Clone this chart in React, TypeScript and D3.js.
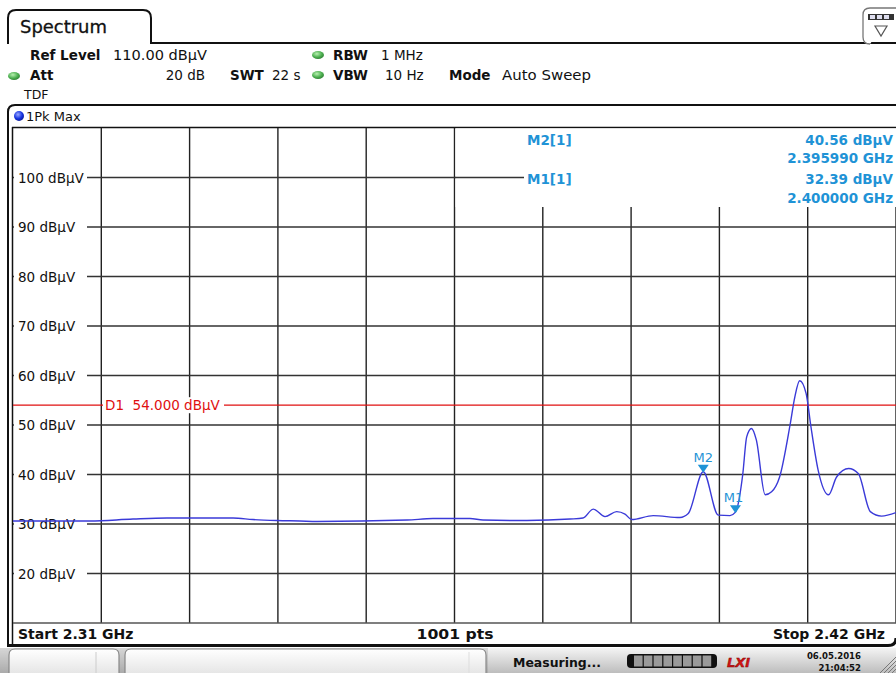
import React from "react";
import * as d3 from "d3";

const W = 896;
const H = 673;

// Trace: frequency (GHz) and level (dBµV)
const traceFreq = [
  2.3100, 2.31336, 2.31959, 2.32495, 2.32918, 2.33741, 2.3399, 2.34289, 2.34575, 2.34787,
  2.35908, 2.36232, 2.36693, 2.36855, 2.37403, 2.37939, 2.3810, 2.38229, 2.38375, 2.3852,
  2.38624, 2.38707, 2.38976, 2.39309, 2.39412, 2.39599, 2.39786, 2.39932, 2.4000, 2.4009,
  2.4014, 2.4020, 2.4026, 2.4037, 2.4045, 2.4055, 2.4068, 2.4074, 2.4080, 2.4088,
  2.4094, 2.4103, 2.4116, 2.4126, 2.4141, 2.4153, 2.4168, 2.4182, 2.4200,
];
const traceLevel = [
  30.6, 30.6, 30.6, 31.0, 31.2, 31.2, 30.9, 30.7, 30.6, 30.5,
  30.8, 31.1, 31.1, 30.8, 30.7, 31.0, 31.2, 33.0, 31.5, 32.5,
  32.0, 30.9, 31.7, 31.3, 32.1, 40.56, 31.8, 31.7, 32.39, 39.9,
  47.6, 49.3, 47.0, 35.9, 36.5, 39.5, 50.0, 55.7, 58.95, 56.4,
  49.7, 40.9, 35.9, 39.5, 41.2, 40.2, 32.5, 31.6, 32.3,
];

const yTicks = [100, 90, 80, 70, 60, 50, 40, 30, 20];
const yTickLabels = yTicks.map((v) => `${v} dBµV`);
const xDivisions = d3.range(11);

const markerNames = ["M2", "M1"];
const markerFreq = [2.39599, 2.4];
const markerLevel = [40.56, 32.39];
const markerLevelText = ["40.56 dBµV", "32.39 dBµV"];
const markerFreqText = ["2.395990 GHz", "2.400000 GHz"];

const displayLine = 54;
const displayLineLabel = "D1  54.000 dBµV";

const startFreq = 2.31;
const stopFreq = 2.42;
const refLevel = 110;
const bottomLevel = 10;

const FONT = "'DejaVu Sans', Verdana, sans-serif";
const FONTC = "'DejaVu Sans Condensed', 'DejaVu Sans', sans-serif";
const MARK = "#1f93d6";

export default function App() {
  const x = d3.scaleLinear().domain([startFreq, stopFreq]).range([13, 896]);
  const y = d3.scaleLinear().domain([bottomLevel, refLevel]).range([623, 128]);

  const pts: [number, number][] = traceFreq.map((f, i) => [f, traceLevel[i]]);
  const line = d3
    .line<[number, number]>()
    .x((d) => x(d[0]))
    .y((d) => y(d[1]))
    .curve(d3.curveMonotoneX);

  const step = (stopFreq - startFreq) / 10;
  const tableBottom = 207;
  const tableLeft = x(startFreq + 5 * step) + 1;

  return (
    <svg
      width={W}
      height={H}
      viewBox={`0 0 ${W} ${H}`}
      style={{ position: "absolute", left: 0, top: 0, background: "#fff" }}
      fontFamily={FONT}
    >
      <defs>
        <radialGradient id="gdot" cx="40%" cy="35%" r="70%">
          <stop offset="0%" stopColor="#b8f0b0" />
          <stop offset="60%" stopColor="#4caf50" />
          <stop offset="100%" stopColor="#2e7d32" />
        </radialGradient>
        <radialGradient id="bdot" cx="40%" cy="35%" r="70%">
          <stop offset="0%" stopColor="#9aa8ff" />
          <stop offset="60%" stopColor="#1533e0" />
          <stop offset="100%" stopColor="#0a1a90" />
        </radialGradient>
        <linearGradient id="status" x1="0" y1="0" x2="0" y2="1">
          <stop offset="0%" stopColor="#f4f4f4" />
          <stop offset="100%" stopColor="#bdbdbd" />
        </linearGradient>
        <linearGradient id="stbox" x1="0" y1="0" x2="0" y2="1">
          <stop offset="0%" stopColor="#ffffff" />
          <stop offset="100%" stopColor="#e6e6e6" />
        </linearGradient>
      </defs>

      <rect x={0} y={0} width={W} height={H} fill="#fff" />

      {/* Tab */}
      <path
        d="M8,44 L8,18 Q8,10 16,10 L143,10 Q151,10 151,18 L151,43 L896,43"
        fill="none"
        stroke="#111"
        strokeWidth={2}
      />
      <text x={20} y={33} fontSize={17} fill="#111" stroke="#111" strokeWidth={0.3} textLength={87} lengthAdjust="spacingAndGlyphs">
        Spectrum
      </text>

      {/* top-right icon */}
      <path d="M896,8 L870,8 Q863,8 863,15 L863,37 Q863,44 870,44" fill="#fff" stroke="#777" strokeWidth={1.3} />
      <rect x={868} y={14} width={26} height={6} fill="#333" />
      <rect x={870} y={15} width={5} height={4} fill="#dde" />
      <rect x={877} y={15} width={5} height={4} fill="#dde" />
      <rect x={884} y={15} width={5} height={4} fill="#dde" />
      <path d="M875,26 L887,26 L881,36 Z" fill="#fff" stroke="#555" strokeWidth={1.2} />

      {/* Header settings */}
      <g fontSize={13.5} fill="#111">
        <text x={30} y={60} fontWeight="bold">Ref Level</text>
        <text x={113} y={60} textLength={94} lengthAdjust="spacingAndGlyphs">110.00 dBµV</text>
        <ellipse cx={318} cy={55} rx={6} ry={4} fill="url(#gdot)" />
        <text x={333} y={60} fontWeight="bold">RBW</text>
        <text x={381} y={60}>1 MHz</text>

        <ellipse cx={14} cy={76} rx={6} ry={4} fill="url(#gdot)" />
        <text x={30} y={80} fontWeight="bold">Att</text>
        <text x={205} y={80} textAnchor="end">20 dB</text>
        <text x={230} y={80} fontWeight="bold">SWT</text>
        <text x={272} y={80}>22 s</text>
        <ellipse cx={318} cy={75} rx={6} ry={4} fill="url(#gdot)" />
        <text x={333} y={80} fontWeight="bold">VBW</text>
        <text x={385} y={80}>10 Hz</text>
        <text x={449} y={80} fontWeight="bold">Mode</text>
        <text x={502} y={80} textLength={89} lengthAdjust="spacingAndGlyphs">Auto Sweep</text>

        <text x={24} y={99} fontSize={12.5}>TDF</text>
      </g>

      {/* Diagram frame */}
      <path
        d="M8,646 L8,112 Q8,105 15,105 L896,105"
        fill="none"
        stroke="#111"
        strokeWidth={2}
      />
      <line x1={12.5} y1={127} x2={12.5} y2={646} stroke="#111" strokeWidth={1.5} />
      <line x1={12} y1={127.5} x2={896} y2={127.5} stroke="#111" strokeWidth={1.5} />
      <circle cx={19} cy={116} r={5} fill="url(#bdot)" />
      <text x={26} y={121} fontSize={13} fill="#111">1Pk Max</text>

      {/* Vertical grid */}
      {xDivisions.slice(1).map((i) => {
        const xx = x(startFreq + i * step);
        const top = i > 5 ? tableBottom : 128;
        return (
          <line key={"v" + i} x1={xx} y1={top} x2={xx} y2={623} stroke="#222" strokeWidth={1.4} />
        );
      })}

      {/* Horizontal grid */}
      {yTicks.map((v) => (
        <line key={"h" + v} x1={13} y1={y(v)} x2={896} y2={y(v)} stroke="#333" strokeWidth={1.4} />
      ))}
      <line x1={13} y1={623} x2={896} y2={623} stroke="#555" strokeWidth={1.6} />

      {/* Marker table box */}
      <rect x={tableLeft} y={128.5} width={896 - tableLeft} height={tableBottom - 128.5} fill="#fff" />
      <line x1={tableLeft - 1} y1={y(100)} x2={524} y2={y(100)} stroke="#333" strokeWidth={1.4} />
      <g fontSize={13.5} fontWeight="bold" fill={MARK}>
        <text x={527} y={145}>M2[1]</text>
        <text x={893} y={145} textAnchor="end">{markerLevelText[0]}</text>
        <text x={893} y={163} textAnchor="end">{markerFreqText[0]}</text>
        <text x={527} y={184}>M1[1]</text>
        <text x={893} y={184} textAnchor="end">{markerLevelText[1]}</text>
        <text x={893} y={203} textAnchor="end">{markerFreqText[1]}</text>
      </g>

      {/* Y labels */}
      {yTicks.map((v, i) => (
        <g key={"yl" + v}>
          <rect x={14} y={y(v) - 8} width={73} height={16} fill="#fff" />
          <text x={18} y={y(v) + 5} fontSize={13.5} fill="#111">
            {yTickLabels[i]}
          </text>
        </g>
      ))}

      {/* Display line */}
      <line x1={13} y1={y(displayLine)} x2={896} y2={y(displayLine)} stroke="#e01010" strokeWidth={1.2} />
      <rect x={103} y={y(displayLine) - 8} width={121} height={16} fill="#fff" />
      <text x={105} y={y(displayLine) + 5} fontSize={13.5} fill="#e01010" style={{ whiteSpace: "pre" }}>
        {displayLineLabel}
      </text>

      {/* Trace */}
      <path d={line(pts) || ""} fill="none" stroke="#3a3ad8" strokeWidth={1.4} />

      {/* Markers */}
      {markerNames.map((m, i) => {
        const mx = x(markerFreq[i]);
        const my = y(markerLevel[i]);
        const lx = i === 1 ? mx - 2 : mx;
        return (
          <g key={m} fill={MARK}>
            <path d={`M${mx - 5.5},${my - 7} L${mx + 5.5},${my - 7} L${mx},${my + 1} Z`} />
            <text x={lx} y={my - 10} fontSize={13} textAnchor="middle">{m}</text>
          </g>
        );
      })}

      {/* Bottom labels */}
      <g fontSize={14} fontWeight="bold" fill="#111">
        <text x={18} y={639}>Start 2.31 GHz</text>
        <text x={455} y={639} textAnchor="middle" textLength={77} lengthAdjust="spacingAndGlyphs">1001 pts</text>
        <text x={885} y={639} textAnchor="end">Stop 2.42 GHz</text>
      </g>
      <path d="M7,645.5 L888,645.5 Q896,645.5 896,638" fill="none" stroke="#111" strokeWidth={3} />

      {/* Status bar */}
      <rect x={0} y={648} width={W} height={H - 648} fill="url(#status)" />
      <rect x={0} y={648} width={488} height={H - 648} fill="#666" opacity={0.2} />
      <path d="M9,673 L9,655 Q9,649 15,649 L113,649 Q119,649 119,655 L119,673" fill="url(#stbox)" stroke="#888" strokeWidth={1.2} />
      <line x1={96} y1={652} x2={96} y2={673} stroke="#ccc" />
      <path d="M125,673 L125,655 Q125,649 131,649 L480,649 Q486,649 486,655 L486,673" fill="url(#stbox)" stroke="#888" strokeWidth={1.2} />
      <line x1={469} y1={652} x2={469} y2={673} stroke="#ddd" />
      <text x={513} y={667} fontSize={13} fontWeight="bold" fill="#111" fontFamily={FONTC} textLength={88} lengthAdjust="spacingAndGlyphs">Measuring...</text>
      <rect x={627} y={654} width={90} height={14} rx={4} fill="#111" />
      {d3.range(8).map((k) => (
        <rect key={"pb" + k} x={634 + k * 9.8} y={655.5} width={8.6} height={11} fill="#9a9a9a" />
      ))}
      <text x={727} y={667} fontSize={13} fontWeight="bold" fontStyle="italic" fill="#d41414" stroke="#7a0000" strokeWidth={0.4}>LXI</text>
      <g fontSize={9.5} fontWeight="bold" fill="#111" fontFamily={FONTC} textAnchor="end">
        <text x={861} y={659}>06.05.2016</text>
        <text x={861} y={671}>21:04:52</text>
      </g>
      {[0, 1, 2, 3].map((k) => (
        <line key={"rz" + k} x1={880 + k * 4} y1={673} x2={896} y2={657 + k * 4} stroke="#777" strokeWidth={1} />
      ))}
    </svg>
  );
}
